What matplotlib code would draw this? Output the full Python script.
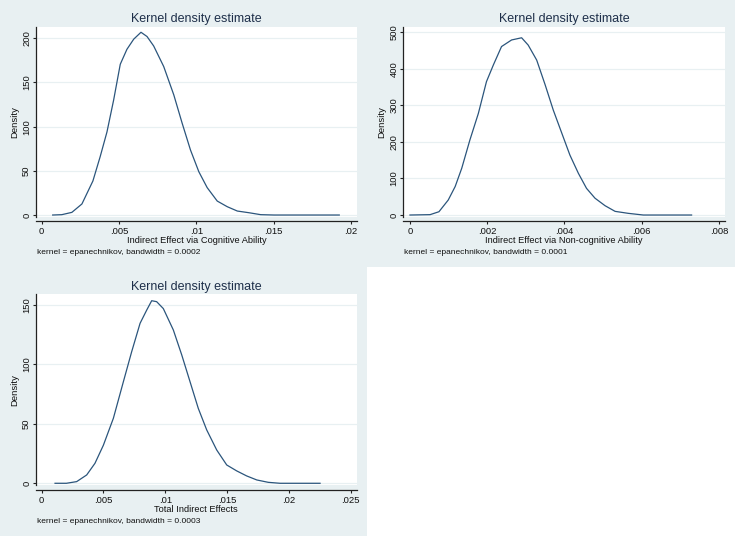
import matplotlib
matplotlib.use("Agg")
import matplotlib.pyplot as plt
from matplotlib.patches import Rectangle

plt.rcParams['font.family'] = ['Liberation Sans', 'DejaVu Sans']

# ---------------- data ----------------
title_text = "Kernel density estimate"

p1_x = [0.00071, 0.0013, 0.00195, 0.0026, 0.00331, 0.00378, 0.00422, 0.00465, 0.00508,
        0.00551, 0.00595, 0.00642, 0.00681, 0.00724, 0.00789, 0.00854, 0.00908, 0.00962,
        0.01016, 0.0107, 0.01135, 0.012, 0.01265, 0.0134, 0.01416, 0.01503, 0.01924]
p1_y = [0, 0.4, 3, 12.5, 38.5, 66, 94, 130, 170.6,
        187.5, 199, 206.8, 202, 191.3, 168, 136, 104, 73.6,
        49, 31, 15.8, 9.4, 4.5, 2.6, 0.4, 0, 0]
p1_xticks = [0, 0.005, 0.01, 0.015, 0.02]
p1_xticklabels = ["0", ".005", ".01", ".015", ".02"]
p1_yticks = [0, 50, 100, 150, 200]
p1_xlabel = "Indirect Effect via Cognitive Ability"
p1_note = "kernel = epanechnikov, bandwidth = 0.0002"

p2_x = [0, 0.00052, 0.00075, 0.00099, 0.00117, 0.00134, 0.00155, 0.00177, 0.00198,
        0.00216, 0.00237, 0.00263, 0.00289, 0.00306, 0.00328, 0.0035, 0.00371, 0.00393,
        0.00414, 0.00436, 0.00457, 0.00479, 0.00505, 0.00531, 0.00565, 0.00604, 0.00729]
p2_y = [0, 1, 9, 41, 78, 128, 205, 278, 365,
        411, 461, 479, 485, 465, 424, 356, 287, 224,
        164, 114, 73, 46, 25.5, 10, 4.6, 0, 0]
p2_xticks = [0, 0.002, 0.004, 0.006, 0.008]
p2_xticklabels = ["0", ".002", ".004", ".006", ".008"]
p2_yticks = [0, 100, 200, 300, 400, 500]
p2_xlabel = "Indirect Effect via Non-cognitive Ability"
p2_note = "kernel = epanechnikov, bandwidth = 0.0001"

p3_x = [0.00108, 0.002, 0.00283, 0.00364, 0.00431, 0.00499, 0.0058, 0.00661, 0.00728,
        0.00796, 0.0085, 0.0089, 0.0093, 0.00984, 0.01065, 0.01133, 0.012, 0.01267,
        0.01335, 0.01416, 0.01497, 0.01578, 0.01658, 0.0174, 0.01833, 0.01928, 0.02252]
p3_y = [0, 0, 1.4, 7, 16.8, 32, 54.7, 85.5, 110.7,
        134.6, 145.8, 153.6, 152.8, 147, 129, 108, 85.5, 63,
        44.9, 28, 15.4, 10.4, 6.2, 2.8, 0.8, 0, 0]
p3_xticks = [0, 0.005, 0.01, 0.015, 0.02, 0.025]
p3_xticklabels = ["0", ".005", ".01", ".015", ".02", ".025"]
p3_yticks = [0, 50, 100, 150]
p3_xlabel = "Total Indirect Effects"
p3_note = "kernel = epanechnikov, bandwidth = 0.0003"

# ---------------- style ----------------
W, H = 735, 536
BG = "#E8F0F2"
LINE = "#2B557C"
TITLE_C = "#1E2F4A"
GRID = "#E8F0F2"
AXC = "#222222"
TXT = "#111111"

fig = plt.figure(figsize=(W / 100, H / 100), dpi=100)
fig.patch.set_facecolor(BG)
# empty bottom-right cell is white
fig.patches.append(Rectangle((367 / W, 0), 1 - 367 / W, 1 - 267 / H,
                             transform=fig.transFigure, facecolor="white",
                             edgecolor="none", zorder=0))


def fx(px):
    return px / W


def fy(py):
    return 1 - py / H


def panel(left, right, top, bottom, xlim, ylim, xs, ys, xticks, xtl, yticks,
          xlabel, note, title_base, xlabel_base, note_base):
    ax = fig.add_axes([fx(left), fy(bottom), fx(right) - fx(left), (bottom - top) / H])
    ax.set_facecolor("white")
    ax.plot(xs, ys, color=LINE, lw=0.9, zorder=3)
    ax.set_xlim(*xlim)
    ax.set_ylim(*ylim)
    ax.set_xticks(xticks)
    ax.set_xticklabels(xtl)
    ax.set_yticks(yticks)
    ax.set_yticklabels([str(v) for v in yticks], rotation=90, va="center")
    for s in ["top", "right"]:
        ax.spines[s].set_visible(False)
    ax.spines["bottom"].set_position(("outward", 3.2))
    for s in ["left", "bottom"]:
        ax.spines[s].set_color(AXC)
        ax.spines[s].set_linewidth(0.9)
    ax.tick_params(axis="both", length=2.3, width=0.8, color=AXC, labelsize=6.8,
                   labelcolor=TXT)
    ax.tick_params(axis="x", pad=2.1)
    ax.tick_params(axis="y", pad=1.2)
    ax.yaxis.grid(True, color=GRID, lw=0.9, zorder=0)
    ax.set_axisbelow(True)
    cx = (left + right) / 2
    fig.text(fx(cx), fy(title_base), title_text, ha="center", va="baseline",
             fontsize=9.0, color=TITLE_C)
    fig.text(fx(cx), fy(xlabel_base), xlabel, ha="center", va="baseline",
             fontsize=6.7, color=TXT)
    fig.text(fx(left + 0.7), fy(note_base), note, ha="left", va="baseline",
             fontsize=6.0, color=TXT)
    fig.text(fx(left - 21.3), fy((top + bottom) / 2), "Density", ha="center",
             va="center", rotation=90, fontsize=6.8, color=TXT)
    return ax


panel(36, 356.7, 26.7, 216.7, (-0.000369, 0.020369), (-1.9, 213.1),
      p1_x, p1_y, p1_xticks, p1_xticklabels, p1_yticks, p1_xlabel, p1_note,
      22.3, 243.3, 254.5)
panel(403.3, 725, 26.7, 216.7, (-0.000173, 0.008155), (-4.6, 515.3),
      p2_x, p2_y, p2_xticks, p2_xticklabels, p2_yticks, p2_xlabel, p2_note,
      22.3, 243.3, 254.5)
panel(36, 356.7, 294.3, 485.3, (-0.00046, 0.025485), (-1.7, 159.0),
      p3_x, p3_y, p3_xticks, p3_xticklabels, p3_yticks, p3_xlabel, p3_note,
      289.9, 511.9, 523.0)

fig.savefig("out.png", dpi=100, facecolor=fig.get_facecolor())
